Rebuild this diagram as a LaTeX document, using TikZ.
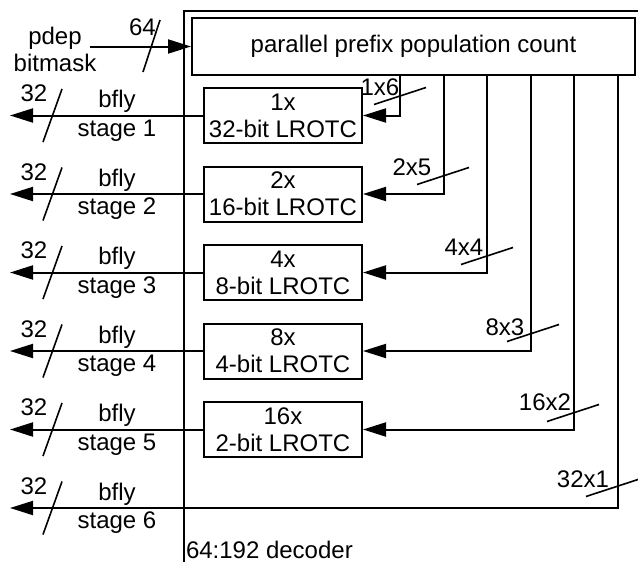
\documentclass[tikz,border=0pt]{standalone}
\usepackage{fontspec}
\setmainfont{Liberation Sans}
\usepackage{tikz}
\usetikzlibrary{
  arrows.meta,
  positioning,
  calc
}

\begin{document}
\begin{tikzpicture}[
      x=0.5pt, y=-0.5pt,
      >={Triangle[length=11.5pt, width=7pt]},
      line width=1pt,
      node distance=10.75pt,
      every node/.style={font=\fontsize{12}{13.5}\selectfont},
      bloco/.style={draw, minimum width=79pt, minimum height=27.5pt, align=center, inner sep=1pt},
      rotulo/.style={inner sep=1pt, align=center},
      barra/.style={line width=0.8pt},
      seta/.style={->, line width=1pt}
  ]
      \useasboundingbox (0,0) rectangle (638,562);
      \clip (0,0) rectangle (638,562);

      % Decodificador
      \node[draw, anchor=north west, minimum width=270pt, minimum height=300pt] (dec) at (183,10) {};
      \node[rotulo, anchor=west] (declbl) at (183,550) {64:192 decoder};

      % Contagem
      \node[bloco, minimum width=221.5pt, minimum height=28.5pt] (pop) at (413.5,46.5) {parallel prefix population count};

      % Blocos LROTC
      \node[bloco] (lr1) at (283,115.5) {1x\\32-bit LROTC};
      \node[bloco, below=of lr1] (lr2) {2x\\16-bit LROTC};
      \node[bloco, below=of lr2] (lr3) {4x\\8-bit LROTC};
      \node[bloco, below=of lr3] (lr4) {8x\\4-bit LROTC};
      \node[bloco, below=of lr4] (lr5) {16x\\2-bit LROTC};

      % Entrada
      \node[rotulo] (pdep) at (55,49) {pdep\\bitmask};
      \coordinate (ent) at (90,46.5);
      \draw[seta] (ent) -- (pop.west);
      \draw[barra] (151.5,46) +(-8.5,26) -- +(8.5,-26);
      \node[rotulo] (w0) at (142.5,27) {64};

      % Saidas
      \coordinate (borda) at (10,0);
      \coordinate (s1) at (lr1 -| borda);
      \coordinate (s2) at (lr2 -| borda);
      \coordinate (s3) at (lr3 -| borda);
      \coordinate (s4) at (lr4 -| borda);
      \coordinate (s5) at (lr5 -| borda);
      \coordinate (s6) at ($(s5)+(0,78.5)$);

      \draw[seta] (lr1.west) -- (s1);
      \draw[seta] (lr2.west) -- (s2);
      \draw[seta] (lr3.west) -- (s3);
      \draw[seta] (lr4.west) -- (s4);
      \draw[seta] (lr5.west) -- (s5);

      % Derivacoes da contagem
      \coordinate (t1) at ($(pop.south)+(-13.5,0)$);
      \coordinate (t2) at ($(pop.south)+(30.5,0)$);
      \coordinate (t3) at ($(pop.south)+(73.5,0)$);
      \coordinate (t4) at ($(pop.south)+(117.5,0)$);
      \coordinate (t5) at ($(pop.south)+(160.5,0)$);
      \coordinate (t6) at ($(pop.south)+(204.5,0)$);

      \draw[seta] (t1) |- (lr1.east);
      \draw[seta] (t2) |- (lr2.east);
      \draw[seta] (t3) |- (lr3.east);
      \draw[seta] (t4) |- (lr4.east);
      \draw[seta] (t5) |- (lr5.east);
      \draw[seta] (t6) |- (s6);

      % Larguras das derivacoes
      \draw[barra] (400,96) +(-26,8.5) -- +(26,-8.5);
      \node[rotulo] (n1) at (380,87) {1x6};
      \draw[barra] (443,176) +(-26,8.5) -- +(26,-8.5);
      \node[rotulo] (n2) at (412,167) {2x5};
      \draw[barra] (487,256) +(-26,8.5) -- +(26,-8.5);
      \node[rotulo] (n3) at (464,247) {4x4};
      \draw[barra] (533,333) +(-26,8.5) -- +(26,-8.5);
      \node[rotulo] (n4) at (505,327) {8x3};
      \draw[barra] (573,413) +(-26,8.5) -- +(26,-8.5);
      \node[rotulo] (n5) at (545,402) {16x2};
      \draw[barra] (612,488) +(-26,8.5) -- +(26,-8.5);
      \node[rotulo] (n6) at (583,479) {32x1};

      % Rotulos das saidas
      \node[rotulo, anchor=south] (b1) at ($(s1)+(107,0)$) {bfly};
      \node[rotulo, anchor=north] (e1) at ($(s1)+(107,1)$) {stage 1};
      \node[rotulo] (w1) at ($(s1)+(24,-22)$) {32};
      \draw[barra] ($(s1)+(42.5,0)$) +(-9.5,26.5) -- +(9.5,-26.5);

      \node[rotulo, anchor=south] (b2) at ($(s2)+(107,0)$) {bfly};
      \node[rotulo, anchor=north] (e2) at ($(s2)+(107,1)$) {stage 2};
      \node[rotulo] (w2) at ($(s2)+(24,-22)$) {32};
      \draw[barra] ($(s2)+(42.5,0)$) +(-9.5,26.5) -- +(9.5,-26.5);

      \node[rotulo, anchor=south] (b3) at ($(s3)+(107,0)$) {bfly};
      \node[rotulo, anchor=north] (e3) at ($(s3)+(107,1)$) {stage 3};
      \node[rotulo] (w3) at ($(s3)+(24,-22)$) {32};
      \draw[barra] ($(s3)+(42.5,0)$) +(-9.5,26.5) -- +(9.5,-26.5);

      \node[rotulo, anchor=south] (b4) at ($(s4)+(107,0)$) {bfly};
      \node[rotulo, anchor=north] (e4) at ($(s4)+(107,1)$) {stage 4};
      \node[rotulo] (w4) at ($(s4)+(24,-22)$) {32};
      \draw[barra] ($(s4)+(42.5,0)$) +(-9.5,26.5) -- +(9.5,-26.5);

      \node[rotulo, anchor=south] (b5) at ($(s5)+(107,0)$) {bfly};
      \node[rotulo, anchor=north] (e5) at ($(s5)+(107,1)$) {stage 5};
      \node[rotulo] (w5) at ($(s5)+(24,-22)$) {32};
      \draw[barra] ($(s5)+(42.5,0)$) +(-9.5,26.5) -- +(9.5,-26.5);

      \node[rotulo, anchor=south] (b6) at ($(s6)+(107,0)$) {bfly};
      \node[rotulo, anchor=north] (e6) at ($(s6)+(107,1)$) {stage 6};
      \node[rotulo] (w6) at ($(s6)+(24,-22)$) {32};
      \draw[barra] ($(s6)+(42.5,0)$) +(-9.5,26.5) -- +(9.5,-26.5);

  \end{tikzpicture}
\end{document}
